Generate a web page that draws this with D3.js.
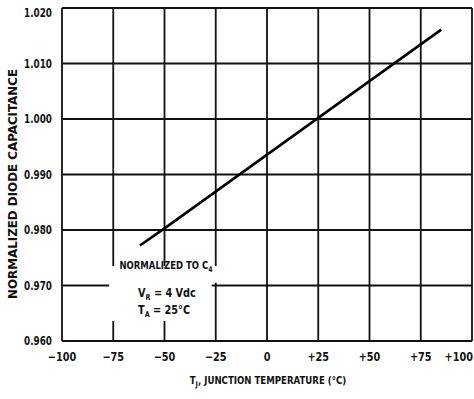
<!DOCTYPE html>
<html>
<head>
<meta charset="utf-8">
<script src="https://cdn.jsdelivr.net/npm/d3@7"></script>
<style>
  html, body { margin: 0; padding: 0; background: #fff; }
  svg text { font-family: "DejaVu Sans Condensed", "Liberation Sans", sans-serif; font-weight: bold; fill: #111; }
</style>
</head>
<body>
<div id="chart"></div>
<script>
// data
const tempTicks = [-100, -75, -50, -25, 0, 25, 50, 75, 100];
const tempLabels = ["\u2212100", "\u221275", "\u221250", "\u221225", "0", "+25", "+50", "+75", "+100"];
const capTicks = [0.960, 0.970, 0.980, 0.990, 1.000, 1.010, 1.020];
const curveTemp = [-62, -50, 25, 85];
const curveCap = [0.9772, 0.9803, 1.0002, 1.0161];

const width = 474, height = 399;
const margin = { top: 8, right: 2, bottom: 58, left: 62 };

const svg = d3.select('#chart').append('svg')
  .attr('width', width)
  .attr('height', height);

const x = d3.scaleLinear().domain([-100, 100]).range([margin.left, width - margin.right]);
const y = d3.scaleLinear().domain([0.960, 1.020]).range([height - margin.bottom, margin.top]);

// the scanned lettering is condensed, so squeeze text horizontally
function squeeze(sel, px, py, sx, rot) {
  sel.attr('transform', 'translate(' + px + ',' + py + ')' + (rot ? ' rotate(' + rot + ')' : '') + ' scale(' + sx + ',1)');
  return sel;
}

// grid
svg.append('g').selectAll('line')
  .data(tempTicks)
  .enter().append('line')
  .attr('x1', d => x(d)).attr('x2', d => x(d))
  .attr('y1', y(1.020)).attr('y2', y(0.960))
  .style('stroke', '#111').style('stroke-width', 1.8);

svg.append('g').selectAll('line')
  .data(capTicks)
  .enter().append('line')
  .attr('x1', x(-100)).attr('x2', x(100))
  .attr('y1', d => y(d)).attr('y2', d => y(d))
  .style('stroke', '#111').style('stroke-width', 1.8);

// white patch behind the note
svg.append('rect')
  .attr('x', x(-77)).attr('y', y(0.9735))
  .attr('width', x(-21) - x(-77)).attr('height', y(0.9705) - y(0.9735))
  .style('fill', '#fff');
svg.append('rect')
  .attr('x', x(-77)).attr('y', y(0.9708))
  .attr('width', x(-27) - x(-77)).attr('height', y(0.9636) - y(0.9708))
  .style('fill', '#fff');

// curve
const line = d3.line().x(d => x(d[0])).y(d => y(d[1]));
svg.append('path')
  .datum(curveTemp.map((t, i) => [t, curveCap[i]]))
  .attr('d', line)
  .style('fill', 'none')
  .style('stroke', '#000')
  .style('stroke-width', 2.6);

// tick labels
svg.append('g').selectAll('text')
  .data(capTicks)
  .enter().append('text')
  .attr('text-anchor', 'end')
  .style('font-size', '12px')
  .each(function(d) {
    squeeze(d3.select(this), margin.left - 10, d === 1.020 ? y(d) + 9 : y(d) + 4, 0.82);
  })
  .text(d => d.toFixed(3));

svg.append('g').selectAll('text')
  .data(tempTicks)
  .enter().append('text')
  .attr('text-anchor', (d, i) => i === tempTicks.length - 1 ? 'end' : 'middle')
  .style('font-size', '12px')
  .each(function(d, i) {
    const px = i === tempTicks.length - 1 ? width - 1 : x(d);
    squeeze(d3.select(this), px, y(0.960) + 20, 0.9);
  })
  .text((d, i) => tempLabels[i]);

// axis titles
const xt = svg.append('text')
  .attr('text-anchor', 'middle')
  .style('font-size', '11px');
squeeze(xt, 268, 384, 0.87);
xt.append('tspan').text('T');
xt.append('tspan').attr('dy', 3).style('font-size', '8px').text('J');
xt.append('tspan').attr('dy', -3).text(', JUNCTION TEMPERATURE (\u00b0C)');

const yt = svg.append('text')
  .attr('text-anchor', 'middle')
  .style('font-size', '12px');
squeeze(yt, 17, 184, 1.1, -90);
yt.text('NORMALIZED DIODE CAPACITANCE');

// note
const n1 = svg.append('text')
  .attr('text-anchor', 'middle')
  .style('font-size', '11px');
squeeze(n1, 166, 269, 0.86);
n1.append('tspan').text('NORMALIZED TO C');
n1.append('tspan').attr('dy', 3).style('font-size', '8px').text('4');

const n2 = svg.append('text')
  .style('font-size', '12px');
squeeze(n2, 138, 297, 0.9);
n2.append('tspan').text('V');
n2.append('tspan').attr('dy', 3).style('font-size', '8px').text('R');
n2.append('tspan').attr('dy', -3).text(' = 4 Vdc');

const n3 = svg.append('text')
  .style('font-size', '12px');
squeeze(n3, 138, 314, 0.9);
n3.append('tspan').text('T');
n3.append('tspan').attr('dy', 3).style('font-size', '8px').text('A');
n3.append('tspan').attr('dy', -3).text(' = 25\u00b0C');
</script>
</body>
</html>
